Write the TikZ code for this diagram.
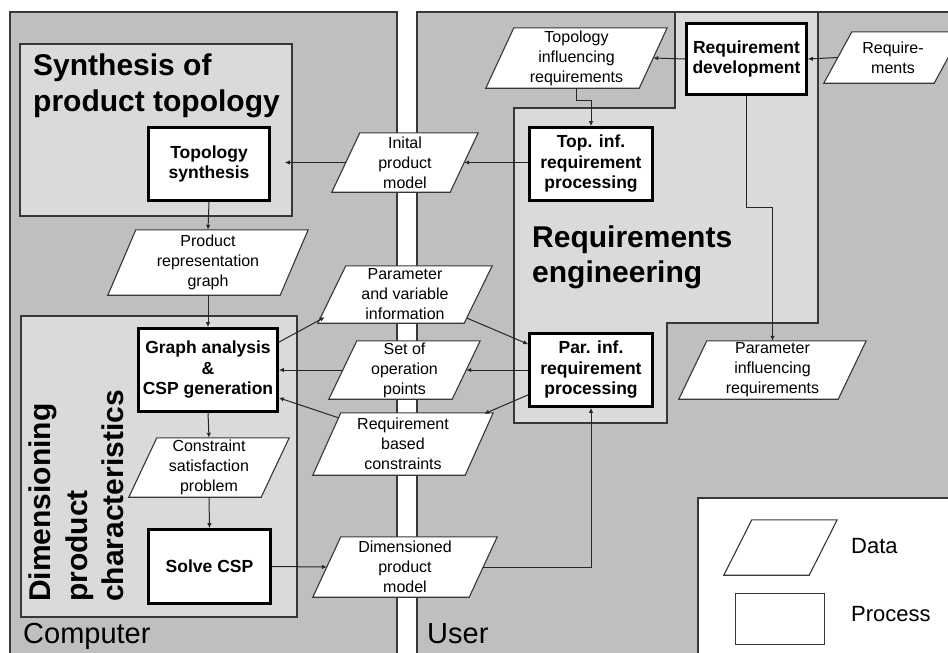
\documentclass[tikz,border=0pt]{standalone}
\usepackage{fontspec}
\setmainfont{Liberation Sans}
\usetikzlibrary{arrows.meta,calc}
\pgfdeclarelayer{panels}
\pgfdeclarelayer{datafill}
\pgfsetlayers{panels,datafill,main}

\definecolor{panelgray}{RGB}{191,191,191}
\definecolor{areagray}{RGB}{218,218,218}
\definecolor{edgegray}{RGB}{55,55,55}

\begin{document}
\begin{tikzpicture}[x=1pt,y=-1pt,
  procbox/.style={draw=black, line width=2.6pt, fill=white, align=center, inner sep=0pt,
    font=\fontsize{17.5}{20.5}\selectfont\bfseries},
  datanode/.style={align=center, inner sep=0pt, font=\fontsize{16}{20}\selectfont},
  dataedge/.style={draw=edgegray, line width=1.1pt, fill=white, line join=miter},
  panel/.style={draw=edgegray, line width=1.4pt},
  arr/.style={draw=black!85, line width=1pt, -{Latex[length=5pt,width=4.5pt]}},
  bigtitle/.style={inner sep=0pt, font=\fontsize{30}{36}\selectfont\bfseries},
  sidelabel/.style={inner sep=0pt, font=\fontsize{29}{34}\selectfont},
  legendlabel/.style={inner sep=0pt, font=\fontsize{22}{26}\selectfont},
]
\clip (0,0) rectangle (948,653);

% ---- panels and areas ----
\begin{pgfonlayer}{panels}
  \fill[white] (0,0) rectangle (948,653);
  \draw[panel, fill=panelgray] (10,12) rectangle (397,670);
  \draw[panel, fill=panelgray] (417,12) rectangle (970,670);
  \draw[panel, fill=areagray] (20,44) rectangle (292,216);
  \draw[panel, fill=areagray] (21,316) rectangle (297,617);
  \draw[panel, fill=areagray] (514,108) -- (675,108) -- (675,12) -- (818,12) -- (818,323)
    -- (667,323) -- (667,423) -- (514,423) -- cycle;
  \fill[white] (698,498) rectangle (970,670);
  \draw[panel] (698,670) -- (698,498) -- (970,498);
\end{pgfonlayer}

% ---- area titles ----
\node[bigtitle, anchor=base west] (syn1) at (33,75) {Synthesis of};
\node[bigtitle, anchor=base west] (syn2) at (33,111) {product topology};
\node[bigtitle, anchor=base west] (reng1) at (532,247) {Requirements};
\node[bigtitle, anchor=base west] (reng2) at (532,282) {engineering};
\node[bigtitle, anchor=base west, rotate=90] (dim1) at (50,602) {Dimensioning};
\node[bigtitle, anchor=base west, rotate=90] (dim2) at (87,602) {product};
\node[bigtitle, anchor=base west, rotate=90] (dim3) at (123,602) {characteristics};
\node[sidelabel, anchor=base west] (comp) at (23,643) {Computer};
\node[sidelabel, anchor=base west] (user) at (427,643) {User};

% ---- process boxes ----
\node[procbox, minimum width=121pt, minimum height=73pt] (ts) at (209,164) {Topology\\synthesis};
\node[procbox, minimum width=139pt, minimum height=83pt] (ga) at (208,370) {Graph analysis\\\&\\CSP generation};
\node[procbox, minimum width=122pt, minimum height=74pt] (sc) at (209.5,566.5) {Solve CSP};
\node[procbox, minimum width=120pt, minimum height=71pt] (rd) at (746.5,59) {Requirement\\development};
\node[procbox, minimum width=123pt, minimum height=73pt] (tip) at (591,164) {Top. inf.\\requirement\\processing};
\node[procbox, minimum width=123pt, minimum height=73pt] (pip) at (591,370) {Par. inf.\\requirement\\processing};

% ---- data nodes (outline drawn below) ----
\node[datanode, minimum width=200pt, minimum height=65pt] (prg) at (208,262.5) {Product\\representation\\graph};
\node[datanode, minimum width=146pt, minimum height=59pt] (ipm) at (405,162.5) {Inital\\product\\model};
\node[datanode, minimum width=174pt, minimum height=57pt] (pvi) at (405,294.5) {Parameter\\and variable\\information};
\node[datanode, minimum width=151pt, minimum height=58pt] (sop) at (404.5,370) {Set of\\operation\\points};
\node[datanode, minimum width=180pt, minimum height=62pt] (rbc) at (403,444) {Requirement\\based\\constraints};
\node[datanode, minimum width=184pt, minimum height=60pt] (dpm) at (405,567) {Dimensioned\\product\\model};
\node[datanode, minimum width=160pt, minimum height=59pt] (csp) at (209,467.5) {Constraint\\satisfaction\\problem};
\node[datanode, minimum width=181pt, minimum height=60pt] (tir) at (576.5,58) {Topology\\influencing\\requirements};
\node[datanode, minimum width=187pt, minimum height=58pt] (pir) at (772.5,370) {Parameter\\influencing\\requirements};
\node[datanode, minimum width=138pt, minimum height=51pt] (req) at (893,57.5) {Require-\\ments};
\node[datanode, minimum width=113pt, minimum height=55pt] (legdata) at (780.5,547.5) {};

\begin{pgfonlayer}{datafill}
  \foreach \n in {prg,ipm,pvi,sop,rbc,dpm,csp,tir,pir,req,legdata}
    \draw[dataedge] ([xshift=28pt]\n.north west) -- (\n.north east)
      -- ([xshift=-28pt]\n.south east) -- (\n.south west) -- cycle;
\end{pgfonlayer}

% ---- legend ----
\node[draw=edgegray, line width=1.2pt, fill=white, minimum width=89pt, minimum height=51pt] (legproc) at (780,619) {};
\node[legendlabel, anchor=base west] (legd) at (851,553) {Data};
\node[legendlabel, anchor=base west] (legp) at (851,621) {Process};

% ---- connectors ----
\draw[arr] ([xshift=14pt]ipm.west) -- ([xshift=14pt]ipm.west -| ts.east);
\draw[arr] (tip.west |- ipm.east) -- ([xshift=-14pt]ipm.east);
\draw[arr] (ts.south) -- (prg.north);
\draw[arr] (prg.south) -- (ga.north);
\draw[arr] ([yshift=-15pt]ga.north east) -- ($(pvi.south west)+(7,-6)$);
\draw[arr] ([xshift=-25pt,yshift=5pt]pvi.south east) -- ([yshift=-12pt]pip.north west);
\draw[arr] (pip.west) -- ([xshift=-14pt]sop.east |- pip.west);
\draw[arr] ([xshift=14pt]sop.west) -- (ga.east);
\draw[arr] ([yshift=13pt]pip.south west) -- ($(rbc.north east)+(-9,1)$);
\draw[arr] ($(rbc.north west)+(25.7,5)$) -- ([yshift=15pt]ga.south east);
\draw[arr] (ga.south) -- (csp.north);
\draw[arr] (csp.south) -- (sc.north);
\draw[arr] (sc.east) -- ([xshift=14pt]dpm.west);
\draw[arr] ([xshift=-14pt]dpm.east) -| (pip.south);
\draw[arr] ([xshift=14pt]req.west) -- (rd.east);
\draw[arr] (rd.west) -- ([xshift=-14pt]tir.east);
\draw[arr] (tir.south) -- ++(0,12) -| (tip.north);
\draw[arr] (rd.south) -- ++(0,111.5) -| (pir.north);
\end{tikzpicture}
\end{document}
